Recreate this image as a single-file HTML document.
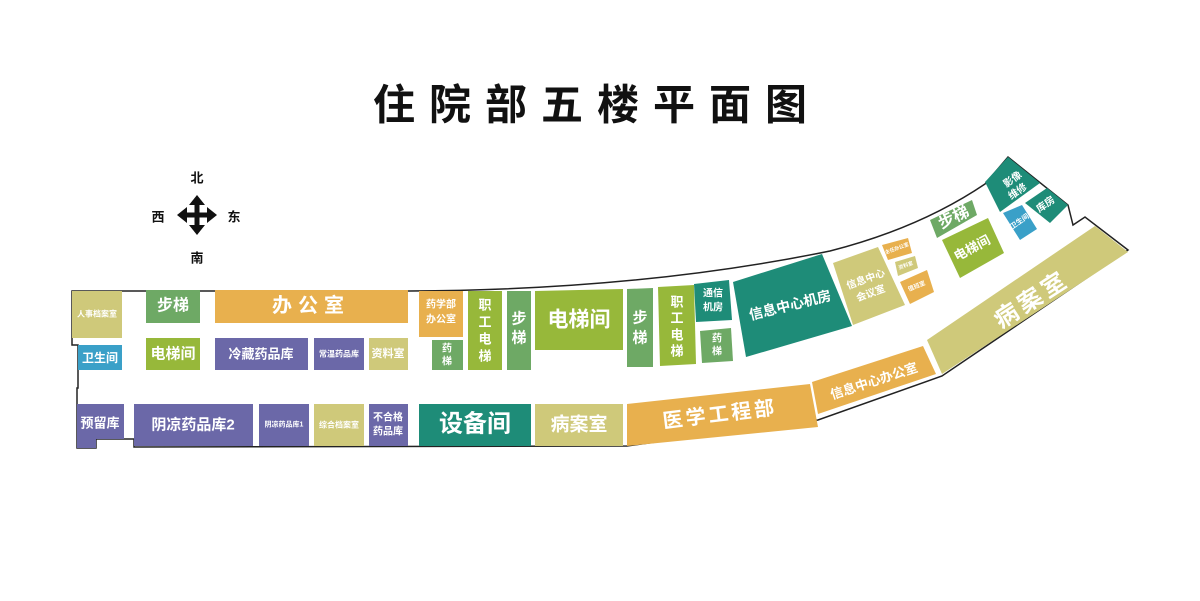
<!DOCTYPE html>
<html><head><meta charset="utf-8"><style>
html,body{margin:0;padding:0;background:#fff;}
svg{display:block}
text{font-family:"Liberation Sans","Noto Sans CJK SC",sans-serif;font-weight:bold;fill:#fff;text-anchor:middle;dominant-baseline:central}
</style></head><body>
<svg width="1200" height="601" viewBox="0 0 1200 601" xmlns="http://www.w3.org/2000/svg">
<rect width="1200" height="601" fill="#fff"/>
<text x="597" y="105" style="fill:#111;font-size:42px;letter-spacing:14px">住院部五楼平面图</text>
<!-- compass -->
<text x="197" y="178" style="fill:#111;font-size:13px">北</text>
<text x="197" y="258" style="fill:#111;font-size:13px">南</text>
<text x="158" y="217" style="fill:#111;font-size:13px">西</text>
<text x="234" y="217" style="fill:#111;font-size:13px">东</text>
<g fill="#111">
<rect x="194.5" y="203" width="5" height="24"/>
<rect x="185" y="212.5" width="24" height="5"/>
<polygon points="197,195 189,205 205,205"/>
<polygon points="197,235 189,225 205,225"/>
<polygon points="177,215 187,207 187,223"/>
<polygon points="217,215 207,207 207,223"/>
</g>
<!-- outline -->
<path d="M72,291 L410,291 Q640,290 830,251 Q920,228 985,184 L1008,157 L1068,205 L1073,225 L1085,217 L1128,250 L942,376 L818,420 L627,446 L134,447 L134,439 L96,439 L96,448 L77,448 L77,388 L78,388 L78,345 L72,345 Z" fill="#fff" stroke="#222" stroke-width="1.5"/>
<!-- left block -->
<rect x="72" y="291" width="50" height="47" fill="#cfc97a"/><text x="97" y="314" style="font-size:8px">人事档案室</text>
<rect x="78" y="345" width="44" height="25" fill="#3aa0c8"/><text x="100" y="358" style="font-size:12px">卫生间</text>
<path d="M77,404 L124,404 L124,439 L96,439 L96,448 L77,448Z" fill="#6b68a8"/><text x="100" y="423" style="font-size:13px">预留库</text>
<rect x="146" y="290" width="54" height="33" fill="#6ea965"/><text x="173" y="306" style="font-size:16px">步梯</text>
<rect x="215" y="290" width="193" height="33" fill="#e8b04e"/><text x="311" y="306" style="font-size:20px;letter-spacing:6px">办公室</text>
<rect x="146" y="338" width="54" height="32" fill="#97b83a"/><text x="173" y="354" style="font-size:15px">电梯间</text>
<rect x="215" y="338" width="93" height="32" fill="#6b68a8"/><text x="261" y="354" style="font-size:13px">冷藏药品库</text>
<rect x="314" y="338" width="50" height="32" fill="#6b68a8"/><text x="339" y="354" style="font-size:8px">常温药品库</text>
<rect x="369" y="338" width="39" height="32" fill="#cfc97a"/><text x="388" y="354" style="font-size:11px">资料室</text>
<rect x="134" y="404" width="119" height="42" fill="#6b68a8"/><text x="193" y="425" style="font-size:15px">阴凉药品库2</text>
<rect x="259" y="404" width="50" height="42" fill="#6b68a8"/><text x="284" y="425" style="font-size:7px">阴凉药品库1</text>
<rect x="314" y="404" width="50" height="42" fill="#cfc97a"/><text x="339" y="425" style="font-size:8px">综合档案室</text>
<rect x="369" y="404" width="39" height="42" fill="#6b68a8"/><text x="388" y="418" style="font-size:10px">不合格</text><text x="388" y="432" style="font-size:10px">药品库</text>
<!-- middle -->
<rect x="419" y="291" width="44" height="46" fill="#e8b04e"/><text x="441" y="305" style="font-size:10px">药学部</text><text x="441" y="320" style="font-size:10px">办公室</text>
<rect x="432" y="340" width="31" height="30" fill="#6ea965"/><text x="447" y="349" style="font-size:10px">药</text><text x="447" y="362" style="font-size:10px">梯</text>
<rect x="468" y="291" width="34" height="79" fill="#97b83a"/>
<text x="485" y="305" style="font-size:13px">职</text><text x="485" y="322" style="font-size:13px">工</text><text x="485" y="339" style="font-size:13px">电</text><text x="485" y="356" style="font-size:13px">梯</text>
<rect x="507" y="291" width="24" height="79" fill="#6ea965"/><text x="519" y="319" style="font-size:15px">步</text><text x="519" y="338" style="font-size:15px">梯</text>
<path d="M535,291 L623,289 L623,350 L535,350Z" fill="#97b83a"/><text x="579" y="320" style="font-size:21px">电梯间</text>
<rect x="419" y="404" width="112" height="42" fill="#1e8c78"/><text x="475" y="424" style="font-size:24px">设备间</text>
<rect x="535" y="404" width="88" height="42" fill="#cfc97a"/><text x="579" y="425" style="font-size:19px">病案室</text>
<path d="M627,289 L653,288 L653,367 L627,367Z" fill="#6ea965"/><text x="640" y="318" style="font-size:15px">步</text><text x="640" y="338" style="font-size:15px">梯</text>
<path d="M658,287 L694,285 L696,364 L660,366Z" fill="#97b83a"/>
<text x="677" y="302" style="font-size:13px">职</text><text x="677" y="318" style="font-size:13px">工</text><text x="677" y="335" style="font-size:13px">电</text><text x="677" y="351" style="font-size:13px">梯</text>
<path d="M694,284 L729,280 L732,320 L696,322Z" fill="#1e8c78"/><text x="713" y="294" style="font-size:10px">通信</text><text x="713" y="308" style="font-size:10px">机房</text>
<path d="M700,331 L731,328 L733,361 L702,363Z" fill="#6ea965"/><text x="717" y="339" style="font-size:10px">药</text><text x="717" y="352" style="font-size:10px">梯</text>
<path d="M733,282 L822,254 L852,326 L746,357Z" fill="#1e8c78"/><text x="790" y="305" transform="rotate(-14 790 305)" style="font-size:14px">信息中心机房</text>
<path d="M627,404 L810,384 L818,427 L627,446Z" fill="#e8b04e"/><text x="720" y="415" transform="rotate(-7 720 415)" style="font-size:20px;letter-spacing:3px">医学工程部</text>
<path d="M812,382 L923,346 L936,374 L818,414Z" fill="#e8b04e"/><text x="874" y="381" transform="rotate(-18 874 381)" style="font-size:13px">信息中心办公室</text>
<path d="M927,340 L1095,226 L1128,252 L942,374Z" fill="#cfc97a"/><text x="1032" y="300" transform="rotate(-33 1032 300)" style="font-size:24px;letter-spacing:4px">病案室</text>
<path d="M833,263 L878,247 L905,305 L853,325Z" fill="#cfc97a"/><text x="866" y="280" transform="rotate(-20 866 280)" style="font-size:10px">信息中心</text><text x="871" y="294" transform="rotate(-20 871 294)" style="font-size:10px">会议室</text>
<path d="M882,245 L908,238 L912,253 L888,260Z" fill="#e8b04e"/><text x="897" y="249" transform="rotate(-20 897 249)" style="font-size:5px">主任办公室</text>
<path d="M895,262 L915,256 L918,268 L898,276Z" fill="#cfc97a"/><text x="906" y="266" transform="rotate(-20 906 266)" style="font-size:5px">资料室</text>
<path d="M900,282 L927,270 L934,292 L910,304Z" fill="#e8b04e"/><text x="917" y="287" transform="rotate(-22 917 287)" style="font-size:6px">值班室</text>
<path d="M930,220 L972,200 L977,215 L937,238Z" fill="#6ea965"/><text x="954" y="218" transform="rotate(-25 954 218)" style="font-size:16px">步梯</text>
<path d="M942,240 L988,218 L1004,253 L960,278Z" fill="#97b83a"/><text x="972" y="248" transform="rotate(-28 972 248)" style="font-size:13px">电梯间</text>
<path d="M985,182 L1008,157 L1040,183 L1000,212Z" fill="#1e8c78"/><text x="1013" y="180" transform="rotate(-35 1013 180)" style="font-size:10px">影像</text><text x="1018" y="192" transform="rotate(-35 1018 192)" style="font-size:10px">维修</text>
<path d="M1003,213 L1022,205 L1037,229 L1020,240Z" fill="#3aa0c8"/><text x="1020" y="222" transform="rotate(-35 1020 222)" style="font-size:7px">卫生间</text>
<path d="M1025,203 L1047,188 L1068,205 L1050,223Z" fill="#1e8c78"/><text x="1046" y="205" transform="rotate(-35 1046 205)" style="font-size:10px">库房</text>
</svg>
</body></html>
